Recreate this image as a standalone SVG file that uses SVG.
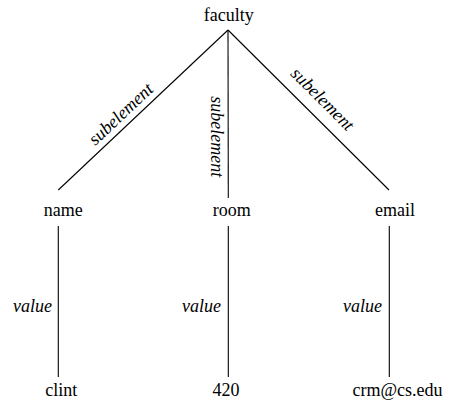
<svg xmlns="http://www.w3.org/2000/svg" width="455" height="406" viewBox="0 0 455 406">
  <style>
    .lbl { font-family: "Liberation Serif", "Times New Roman", serif; font-size: 18px; fill: #000; text-anchor: middle; }
    .edge { font-family: "Liberation Serif", "Times New Roman", serif; font-size: 18px; font-style: italic; fill: #000; }
    .ln { stroke: #000; stroke-width: 1.1; fill: none; }
  </style>
  <rect width="455" height="406" fill="#fff"/>

  <g id="connectors">
    <line class="ln" x1="228" y1="30" x2="58.3" y2="190"/>
    <line class="ln" x1="228" y1="30" x2="228.3" y2="198"/>
    <line class="ln" x1="228" y1="30" x2="389" y2="190"/>
    <line class="ln" x1="58.3" y1="226" x2="58.3" y2="377"/>
    <line class="ln" x1="228.3" y1="226" x2="228.3" y2="377"/>
    <line class="ln" x1="389.3" y1="226" x2="389.3" y2="377"/>
    <text class="edge" text-anchor="middle" transform="translate(124.8,118.3) rotate(-43.3)">subelement</text>
    <text class="edge" text-anchor="middle" transform="translate(210.5,136.7) rotate(90)">subelement</text>
    <text class="edge" text-anchor="middle" transform="translate(318.5,103.2) rotate(45)">subelement</text>
    <text class="edge" text-anchor="end" x="52" y="312">value</text>
    <text class="edge" text-anchor="end" x="221" y="312">value</text>
    <text class="edge" text-anchor="end" x="382" y="312">value</text>
  </g>

  <g id="faculty"><text class="lbl" x="228.7" y="21">faculty</text></g>
  <g id="name"><text class="lbl" x="63.3" y="216">name</text></g>
  <g id="room"><text class="lbl" x="231.7" y="216">room</text></g>
  <g id="email"><text class="lbl" x="395" y="216">email</text></g>
  <g id="clint"><text class="lbl" x="61.3" y="396">clint</text></g>
  <g id="v420"><text class="lbl" x="226" y="396">420</text></g>
  <g id="crm"><text class="lbl" x="397.5" y="396">crm@cs.edu</text></g>
</svg>
